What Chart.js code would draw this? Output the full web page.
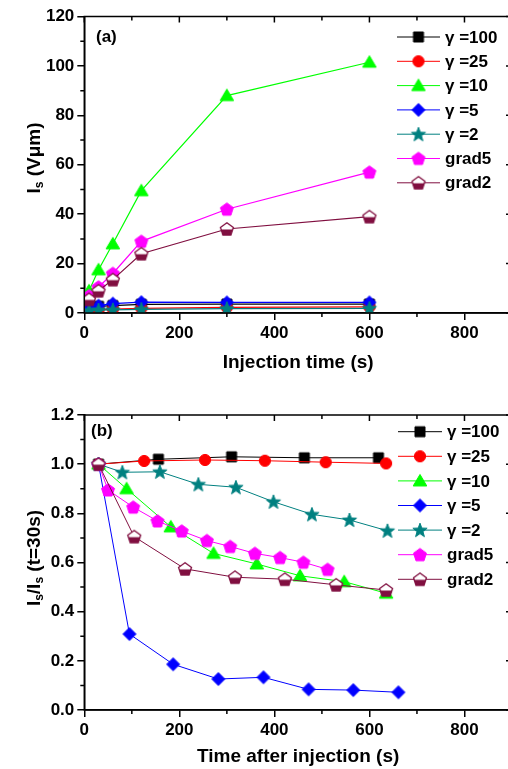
<!DOCTYPE html>
<html>
<head>
<meta charset="utf-8">
<script src="https://cdn.jsdelivr.net/npm/chart.js@4.4.0/dist/chart.umd.min.js"></script>
<style>
html, body { margin: 0; padding: 0; background: #fff; overflow: hidden; width: 508px; height: 769px; }
canvas { display: block; }
</style>
</head>
<body>
<canvas id="chartA" width="512" height="385"></canvas>
<canvas id="chartB" width="512" height="384"></canvas>
<script>
'use strict';

// ─── Series (shared) ──────────────────────────────────────────────────────────
const seriesNames  = ['γ =100', 'γ =25', 'γ =10', 'γ =5', 'γ =2', 'grad5', 'grad2'];
const seriesColors = ['#000000', '#ff0000', '#00ff00', '#0000ff', '#008080', '#ff00ff', '#800f40'];
const seriesShapes = ['square', 'circle', 'triangle', 'diamond', 'star', 'pentagon', 'halfPentagon'];

// ─── Panel (a): Is vs injection time ─────────────────────────────────────────
const injTime = [10, 30, 60, 120, 300, 600];
const isG100  = [2.5, 2.7, 3.0, 3.5, 3.6, 3.6];
const isG25   = [1.3, 1.4, 1.6, 1.9, 2.3, 2.5];
const isG10   = [9, 17.5, 28, 49.5, 88, 101.5];
const isG5    = [2.0, 3.0, 3.8, 4.4, 4.3, 4.3];
const isG2    = [1.0, 1.2, 1.3, 1.5, 1.8, 1.9];
const isGrad5 = [7, 10.5, 16, 29, 42, 57];
const isGrad2 = [5.5, 9, 13.5, 24, 34, 39];

const xTicksA = [0, 200, 400, 600, 800];
const xMinorA = [100, 300, 500, 700];
const yTicksA = [0, 20, 40, 60, 80, 100, 120];
const yMinorA = [10, 30, 50, 70, 90, 110];

// ─── Panel (b): Is/Is(t=30s) vs time after injection ─────────────────────────
const tG100  = [30, 156, 310, 463, 619];
const rG100  = [1.0, 1.02, 1.03, 1.026, 1.026];
const tG25   = [30, 126, 254, 380, 508, 635];
const rG25   = [1.0, 1.013, 1.017, 1.014, 1.008, 1.003];
const tG10   = [30, 89, 182, 272, 363, 454, 547, 635];
const rG10   = [1.0, 0.90, 0.745, 0.637, 0.594, 0.546, 0.522, 0.475];
const tG5    = [30, 95, 187, 282, 377, 472, 566, 661];
const rG5    = [1.0, 0.309, 0.186, 0.126, 0.133, 0.084, 0.081, 0.072];
const tG2    = [30, 80, 159, 240, 319, 398, 479, 558, 638];
const rG2    = [1.0, 0.967, 0.969, 0.918, 0.906, 0.847, 0.796, 0.773, 0.729];
const tGrad5 = [30, 50, 103, 154, 205, 258, 307, 359, 412, 461, 512];
const rGrad5 = [1.0, 0.895, 0.825, 0.769, 0.728, 0.689, 0.665, 0.637, 0.62, 0.601, 0.572];
const tGrad2 = [30, 105, 212, 317, 422, 530, 635];
const rGrad2 = [1.0, 0.705, 0.574, 0.54, 0.532, 0.509, 0.488];

const xTicksB = [0, 200, 400, 600, 800];
const xMinorB = [100, 300, 500, 700];
const yTicksB = [0, 0.2, 0.4, 0.6, 0.8, 1.0, 1.2];
const yMinorB = [0.1, 0.3, 0.5, 0.7, 0.9, 1.1];

const FONT = "'Liberation Sans', Arial, sans-serif";

// ─── Markers ──────────────────────────────────────────────────────────────────
function polyPath(g, cx, cy, n, rOuter, rInner) {
    const steps = rInner ? n * 2 : n;
    for (let i = 0; i < steps; i++) {
        const r = rInner && i % 2 ? rInner : rOuter;
        const a = -Math.PI / 2 + i * Math.PI * 2 / steps;
        const px = cx + r * Math.cos(a), py = cy + r * Math.sin(a);
        if (i === 0) g.moveTo(px, py); else g.lineTo(px, py);
    }
    g.closePath();
}

function makeMarker(shape, color) {
    const s = 18, c = 9;
    const cv = document.createElement('canvas');
    cv.width = s; cv.height = s;
    const g = cv.getContext('2d');
    g.fillStyle = color; g.strokeStyle = color; g.lineWidth = 1;
    g.beginPath();
    if (shape === 'square') g.rect(c - 5, c - 5, 10, 10);
    else if (shape === 'circle') g.arc(c, c, 5.6, 0, Math.PI * 2);
    else if (shape === 'triangle') { g.moveTo(c, c - 6.5); g.lineTo(c + 6.8, c + 5); g.lineTo(c - 6.8, c + 5); g.closePath(); }
    else if (shape === 'diamond') { g.moveTo(c, c - 6.5); g.lineTo(c + 6.5, c); g.lineTo(c, c + 6.5); g.lineTo(c - 6.5, c); g.closePath(); }
    else if (shape === 'star') polyPath(g, c, c + 0.5, 5, 7.5, 3.1);
    else polyPath(g, c, c + 0.5, 5, 6.8);

    if (shape === 'halfPentagon') {
        g.fillStyle = '#fff'; g.fill();
        g.save(); g.clip();
        g.fillStyle = color; g.fillRect(0, c + 0.5, s, s);
        g.restore();
        g.lineWidth = 1.3; g.stroke();
    } else {
        g.fill(); g.stroke();
    }
    return cv;
}
const markers = seriesShapes.map((sh, i) => makeMarker(sh, seriesColors[i]));

// ─── Decorations: frame, minor ticks, legend, labels, y title ────────────────
const decorPlugin = {
    id: 'decor',
    afterDraw(chart, args, o) {
        const ctx = chart.ctx;
        const { left, right, top, bottom } = chart.chartArea;
        const xs = chart.scales.x, ys = chart.scales.y;
        ctx.save();
        ctx.strokeStyle = '#000'; ctx.lineWidth = 1.5;
        ctx.strokeRect(left, top, right - left, bottom - top);
        ctx.beginPath();
        o.xTicks.forEach(v => { const p = xs.getPixelForValue(v); ctx.moveTo(p, top); ctx.lineTo(p, top + 6); });
        o.xMinor.forEach(v => {
            const p = xs.getPixelForValue(v);
            ctx.moveTo(p, top); ctx.lineTo(p, top + 4);
            ctx.moveTo(p, bottom); ctx.lineTo(p, bottom + 4);
        });
        o.yTicks.forEach(v => { const p = ys.getPixelForValue(v); ctx.moveTo(right, p); ctx.lineTo(right - 6, p); });
        o.yMinor.forEach(v => {
            const p = ys.getPixelForValue(v);
            ctx.moveTo(left, p); ctx.lineTo(left - 4, p);
            ctx.moveTo(right, p); ctx.lineTo(right - 4, p);
        });
        ctx.stroke();

        // legend with line + marker samples
        const lg = o.legend;
        chart.data.datasets.forEach((ds, i) => {
            const y = lg.y0 + i * lg.dy;
            ctx.strokeStyle = ds.borderColor; ctx.lineWidth = 1;
            ctx.beginPath(); ctx.moveTo(lg.x0, y); ctx.lineTo(lg.x1, y); ctx.stroke();
            const m = ds.pointStyle;
            ctx.drawImage(m, (lg.x0 + lg.x1) / 2 - m.width / 2, y - m.height / 2);
            ctx.fillStyle = '#000'; ctx.font = 'bold 17px ' + FONT;
            ctx.textAlign = 'left'; ctx.textBaseline = 'middle';
            ctx.fillText(ds.label, lg.tx, y + 1);
        });

        // panel label
        ctx.fillStyle = '#000'; ctx.font = 'bold 17px ' + FONT;
        ctx.textAlign = 'left'; ctx.textBaseline = 'middle';
        ctx.fillText(o.panel.text, o.panel.x, o.panel.y);

        // rotated y title with subscripts
        const yt = o.yTitle;
        const big = 'bold 19px ' + FONT, small = 'bold 12px ' + FONT;
        let total = 0;
        yt.parts.forEach(p => { ctx.font = p.sub ? small : big; total += ctx.measureText(p.t).width; });
        ctx.translate(yt.x, yt.y);
        ctx.rotate(-Math.PI / 2);
        ctx.textBaseline = 'alphabetic';
        let cx = -total / 2;
        yt.parts.forEach(p => {
            ctx.font = p.sub ? small : big;
            ctx.fillText(p.t, cx, p.sub ? 3 : 0);
            cx += ctx.measureText(p.t).width;
        });
        ctx.restore();
    }
};

function buildDatasets(xsList, ysList, lineWidth) {
    return seriesNames.map((name, i) => ({
        label: name,
        data: ysList[i].map((v, k) => ({ x: xsList[i][k], y: v })),
        borderColor: seriesColors[i],
        backgroundColor: seriesColors[i],
        borderWidth: lineWidth,
        pointStyle: markers[i],
        pointRadius: 7,
        tension: 0,
        order: -i,
    }));
}

function axis(ticksArr, min, max, fmt, fit) {
    return {
        type: 'linear', min, max,
        afterBuildTicks: s => { s.ticks = ticksArr.map(v => ({ value: v })); },
        afterFit: fit,
        ticks: { color: '#000', font: { family: FONT, size: 17, weight: 'bold' }, padding: 3, callback: fmt },
        grid: { drawOnChartArea: false, drawTicks: true, tickLength: 7, color: '#000', lineWidth: 1.5 },
        border: { display: true, color: '#000', width: 1.5 },
    };
}

function makePanel(id, cfg) {
    const ctx = document.getElementById(id);
    return new Chart(ctx, {
        type: 'line',
        data: { datasets: buildDatasets(cfg.xs, cfg.ys, cfg.lineWidth) },
        options: {
            responsive: false, animation: false, devicePixelRatio: 1, events: [],
            layout: { autoPadding: false, padding: { top: cfg.top, right: 0, bottom: 0, left: 0 } },
            plugins: {
                legend: { display: false }, tooltip: { enabled: false },
                decor: cfg.decor,
            },
            scales: {
                x: Object.assign(axis(cfg.xTicks, 0, 900, v => String(v), s => {
                    s.height = cfg.xHeight; s.paddingLeft = 0; s.paddingRight = 0;
                }), {
                    title: { display: true, text: cfg.xTitle, color: '#000',
                             font: { family: FONT, size: 19, weight: 'bold' }, padding: { top: 0, bottom: cfg.titlePad } },
                }),
                y: axis(cfg.yTicks, cfg.yMin, cfg.yMax, cfg.yFmt, s => {
                    s.width = 84.3; s.paddingTop = 0; s.paddingBottom = 0;
                }),
            },
        },
        plugins: [decorPlugin],
    });
}

makePanel('chartA', {
    xs: seriesNames.map(() => injTime),
    ys: [isG100, isG25, isG10, isG5, isG2, isGrad5, isGrad2],
    lineWidth: 1.2, top: 16.5, xHeight: 72, titlePad: 10.6,
    xTicks: xTicksA, yTicks: yTicksA, yMin: 0, yMax: 120, yFmt: v => String(v),
    xTitle: 'Injection time (s)',
    decor: {
        xTicks: xTicksA, xMinor: xMinorA, yTicks: yTicksA, yMinor: yMinorA,
        legend: { x0: 397, x1: 440, tx: 445, y0: 37, dy: 24.3 },
        panel: { text: '(a)', x: 96, y: 37 },
        yTitle: { x: 40, y: 158, parts: [{ t: 'I' }, { t: 's', sub: true }, { t: ' (Vμm)' }] },
    },
});

makePanel('chartB', {
    xs: [tG100, tG25, tG10, tG5, tG2, tGrad5, tGrad2],
    ys: [rG100, rG25, rG10, rG5, rG2, rGrad5, rGrad2],
    lineWidth: 1, top: 30, xHeight: 59, titlePad: 1,
    xTicks: xTicksB, yTicks: yTicksB, yMin: 0, yMax: 1.2, yFmt: v => v.toFixed(1),
    xTitle: 'Time after injection (s)',
    decor: {
        xTicks: xTicksB, xMinor: xMinorB, yTicks: yTicksB, yMinor: yMinorB,
        legend: { x0: 398, x1: 442, tx: 447, y0: 46.7, dy: 24.6 },
        panel: { text: '(b)', x: 91, y: 46.7 },
        yTitle: { x: 40, y: 173, parts: [{ t: 'I' }, { t: 's', sub: true }, { t: '/' }, { t: 'I' }, { t: 's', sub: true }, { t: ' (t=30s)' }] },
    },
});
</script>
</body>
</html>
